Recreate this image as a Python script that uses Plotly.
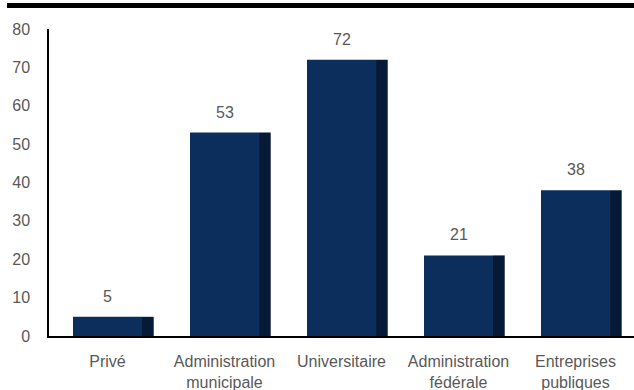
import plotly.graph_objects as go

categories = ["Privé", "Administration<br>municipale", "Universitaire", "Administration<br>fédérale", "Entreprises<br>publiques"]
values = [5, 53, 72, 21, 38]
y_ticks = [0, 10, 20, 30, 40, 50, 60, 70, 80]

FRONT = "#0b2e5c"
SIDE = "#061a38"
TEXT = "#595959"
FONT = "Liberation Sans"

fig = go.Figure()
fig.add_trace(go.Bar(x=categories, y=values, width=0.59, offset=-0.295,
                     marker=dict(color=FRONT, line=dict(width=0)), hoverinfo="skip"))
fig.add_trace(go.Bar(x=categories, y=values, width=0.1, offset=0.295,
                     marker=dict(color=SIDE, line=dict(width=0)), hoverinfo="skip"))

for c, v in zip(categories, values):
    fig.add_annotation(x=c, y=v, text=str(v), showarrow=False, yanchor="bottom",
                       yshift=10, font=dict(family=FONT, size=16, color=TEXT))

fig.add_shape(type="rect", xref="paper", yref="paper",
              x0=(7 - 49) / 585, x1=1.0, y0=(336 - 8) / 307, y1=(336 - 3) / 307,
              fillcolor="black", line=dict(width=0))

fig.update_layout(
    width=634, height=390,
    margin=dict(l=49, r=0, t=29, b=54),
    barmode="overlay", showlegend=False,
    plot_bgcolor="white", paper_bgcolor="white",
    font=dict(family=FONT, size=16, color=TEXT),
    xaxis=dict(showline=True, linecolor="black", linewidth=1.5, ticks="",
               showgrid=False, tickfont=dict(family=FONT, size=16, color=TEXT),
               ticklabelstandoff=10, range=[-0.5, 4.5]),
    yaxis=dict(range=[0, 80], tickvals=y_ticks, showline=True, linecolor="black",
               linewidth=1.5, ticks="", showgrid=False, zeroline=False,
               ticklabelstandoff=14,
               tickfont=dict(family=FONT, size=16, color=TEXT)),
)

fig.write_html("out.html", config={"displayModeBar": False},
               post_script="document.body.style.margin='0';document.body.style.overflow='hidden';")
